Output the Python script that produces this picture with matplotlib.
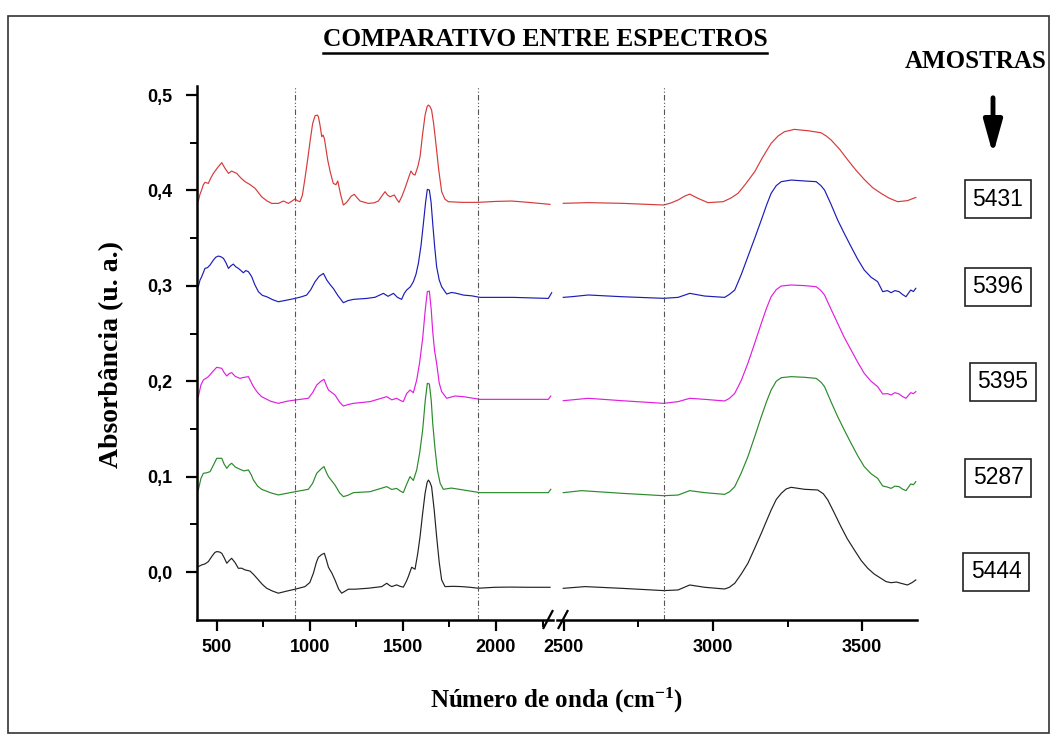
import numpy as np
import matplotlib
matplotlib.use("Agg")
import matplotlib.pyplot as plt
from matplotlib.patches import FancyArrowPatch, Rectangle
from matplotlib.lines import Line2D
from matplotlib.ticker import FixedLocator, FixedFormatter

plt.rcParams['font.family'] = ['Liberation Sans', 'DejaVu Sans']
plt.rcParams['font.weight'] = 'bold'
plt.rcParams['xtick.labelsize'] = 13
plt.rcParams['ytick.labelsize'] = 13
plt.rcParams['mathtext.fontset'] = 'custom'
plt.rcParams['mathtext.rm'] = 'Liberation Serif:bold'
plt.rcParams['mathtext.it'] = 'Liberation Serif:bold'
plt.rcParams['mathtext.bf'] = 'Liberation Serif:bold'

# ---------------- data (wavenumber, absorbance) ----------------
samples = ['5431', '5396', '5395', '5287', '5444']
colors = ['#d63a3a', '#1c1cb8', '#e01ee0', '#2a8a2a', '#222222']

s5444 = [(401,.0057),(419,.0074),(437,.0085),(455,.0109),(473,.0162),(490,.0205),(500,.0214),(515,.0210),
         (527,.0196),(540,.0150),(554,.0092),(567,.0120),(580,.0144),(598,.0100),(616,.0039),(634,.0040),
         (652,.0022),(679,.0010),(700,-.0030),(724,-.0083),(745,-.0130),(768,-.0170),(800,-.0200),
         (831,-.0222),(876,-.0200),(921,-.0180),(974,-.0153),(1000,-.0110),(1019,-.0013),(1035,.0100),
         (1046,.0155),(1065,.0185),(1078,.0196),(1090,.0120),(1100,.0050),(1118,-.0010),(1135,-.0083),
         (1155,-.0180),(1171,-.0222),(1190,-.0200),(1207,-.0180),(1243,-.0180),(1314,-.0170),
         (1386,-.0153),(1413,-.0118),(1428,-.0140),(1440,-.0153),(1466,-.0135),(1485,-.0150),
         (1502,-.0159),(1518,-.0100),(1529,-.0048),(1547,.0050),(1565,.0029),(1580,.0200),(1592,.0371),
         (1605,.0600),(1619,.0825),(1630,.0940),(1637,.0964),(1645,.0940),(1654,.0894),(1668,.0650),
         (1681,.0371),(1695,.0100),(1708,-.0083),(1726,-.0153),(1770,-.0150),(1816,-.0153),
         (1860,-.0160),(1905,-.0170),(1994,-.0160),(2080,-.0158),(2174,-.0160),(2290,-.0160),
         (2498,-.0171),(2571,-.0153),(2694,-.0171),(2835,-.0195),(2883,-.0188),(2922,-.0136),
         (2972,-.0160),(3039,-.0178),(3055,-.0160),(3073,-.0118),(3095,-.0020),(3117,.0091),
         (3140,.0250),(3162,.0406),(3180,.0540),(3195,.0650),(3212,.0760),(3229,.0825),(3245,.0870),
         (3262,.0888),(3307,.0867),(3351,.0860),(3370,.0820),(3385,.0755),(3405,.0630),(3429,.0476),
         (3450,.0350),(3474,.0231),(3497,.0120),(3519,.0039),(3540,-.0020),(3563,-.0066),
         (3580,-.0100),(3597,-.0112),(3615,-.0105),(3630,-.0118),(3652,-.0136),(3668,-.0110),
         (3680,-.0083)]

s5287 = [(401,.0860),(415,.0980),(428,.1035),(446,.1040),(464,.1052),(482,.1120),(500,.1192),(527,.1192),
         (540,.1130),(554,.1087),(567,.1120),(580,.1140),(600,.1100),(625,.1077),(645,.1060),(670,.1070),
         (685,.1020),(697,.0965),(720,.0900),(741,.0867),(790,.0830),(831,.0808),(876,.0825),(921,.0842),
         (992,.0867),(1015,.0930),(1037,.1035),(1060,.1080),(1076,.1105),(1090,.1040),(1100,.1000),
         (1135,.0912),(1160,.0830),(1180,.0790),(1205,.0805),(1234,.0832),(1323,.0842),(1413,.0895),
         (1440,.0865),(1466,.0877),(1485,.0850),(1502,.0832),(1520,.0920),(1538,.1000),(1556,.0960),
         (1574,.1070),(1590,.1250),(1606,.1489),(1620,.1800),(1631,.1978),(1642,.1971),(1652,.1800),
         (1660,.1559),(1672,.1300),(1685,.1070),(1700,.0930),(1717,.0867),(1760,.0880),(1825,.0860),
         (1914,.0832),(2093,.0832),(2281,.0832),(2294,.0867),
         (2498,.0832),(2560,.0853),(2694,.0825),(2835,.0800),(2883,.0807),(2922,.0853),(2972,.0832),
         (3039,.0814),(3055,.0840),(3073,.0895),(3095,.1040),(3117,.1209),(3140,.1420),(3162,.1629),
         (3180,.1790),(3195,.1908),(3212,.2000),(3229,.2037),(3262,.2048),(3307,.2041),(3346,.2030),
         (3362,.1990),(3374,.1943),(3395,.1790),(3418,.1629),(3440,.1490),(3463,.1349),(3485,.1220),
         (3507,.1105),(3530,.1030),(3552,.0982),(3569,.0902),(3585,.0890),(3597,.0877),(3610,.0900),
         (3624,.0895),(3635,.0870),(3647,.0853),(3663,.0923),(3672,.0915),(3680,.0947)]

s5395 = [(401,.1838),(415,.1960),(428,.2013),(442,.2030),(455,.2048),(478,.2100),(500,.2146),(527,.2135),
         (540,.2090),(554,.2055),(567,.2080),(580,.2090),(600,.2050),(625,.2030),(645,.2040),(670,.2048),
         (685,.1990),(697,.1943),(720,.1880),(741,.1838),(790,.1790),(831,.1768),(876,.1790),(921,.1803),
         (992,.1821),(1015,.1880),(1037,.1960),(1060,.2000),(1076,.2020),(1090,.1950),(1100,.1908),
         (1135,.1856),(1160,.1780),(1180,.1740),(1205,.1755),(1234,.1768),(1323,.1786),(1413,.1838),
         (1440,.1805),(1466,.1821),(1485,.1800),(1502,.1786),(1520,.1870),(1538,.1908),(1556,.1880),
         (1574,.2013),(1590,.2200),(1606,.2450),(1620,.2750),(1631,.2940),(1642,.2945),(1652,.2750),
         (1660,.2520),(1670,.2320),(1681,.2188),(1695,.1980),(1708,.1891),(1735,.1821),(1780,.1845),
         (1825,.1838),(1914,.1810),(2093,.1810),(2281,.1810),(2294,.1845),
         (2498,.1796),(2582,.1821),(2694,.1796),(2835,.1768),(2883,.1786),(2922,.1821),(2972,.1810),
         (3039,.1793),(3055,.1820),(3073,.1873),(3095,.2010),(3117,.2188),(3140,.2400),(3162,.2607),
         (3180,.2770),(3195,.2886),(3212,.2960),(3229,.2998),(3262,.3009),(3307,.3002),(3346,.2991),
         (3362,.2950),(3374,.2904),(3395,.2760),(3418,.2607),(3440,.2460),(3463,.2327),(3485,.2200),
         (3507,.2083),(3530,.2000),(3552,.1943),(3569,.1866),(3585,.1870),(3597,.1856),(3610,.1880),
         (3624,.1866),(3635,.1840),(3647,.1821),(3663,.1880),(3672,.1870),(3680,.1891)]

s5396 = [(401,.2990),(410,.3060),(419,.3095),(437,.3183),(450,.3190),(464,.3218),(482,.3270),(495,.3300),
         (509,.3312),(522,.3305),(536,.3288),(550,.3240),(563,.3183),(576,.3210),(589,.3228),(602,.3200),
         (616,.3183),(630,.3160),(643,.3137),(656,.3160),(670,.3148),(680,.3120),(688,.3095),(705,.3010),
         (724,.2938),(745,.2900),(768,.2886),(800,.2855),(831,.2833),(876,.2850),(921,.2868),(955,.2885),
         (983,.2903),(1005,.2960),(1028,.3043),(1050,.3100),(1073,.3130),(1091,.3061),(1110,.3010),
         (1126,.2973),(1150,.2900),(1180,.2823),(1205,.2845),(1234,.2858),(1305,.2868),(1350,.2880),
         (1395,.2921),(1420,.2890),(1449,.2921),(1470,.2880),(1493,.2858),(1507,.2920),(1520,.2956),
         (1540,.2990),(1556,.3043),(1570,.3120),(1583,.3235),(1597,.3420),(1610,.3655),(1622,.3880),
         (1631,.4011),(1642,.4004),(1651,.3880),(1660,.3655),(1670,.3420),(1681,.3200),(1695,.3060),
         (1708,.2991),(1735,.2914),(1760,.2930),(1780,.2925),(1825,.2903),(1870,.2895),(1914,.2879),
         (2093,.2879),(2281,.2868),(2299,.2928),
         (2498,.2879),(2526,.2886),(2582,.2904),(2694,.2886),(2835,.2869),(2883,.2879),(2922,.2921),
         (2972,.2893),(3039,.2879),(3055,.2910),(3073,.2956),(3095,.3120),(3117,.3306),(3140,.3500),
         (3162,.3690),(3180,.3850),(3195,.3970),(3212,.4050),(3229,.4092),(3262,.4109),(3307,.4099),
         (3346,.4092),(3362,.4050),(3374,.4004),(3395,.3860),(3418,.3690),(3440,.3550),(3463,.3410),
         (3485,.3280),(3507,.3166),(3530,.3090),(3552,.3044),(3569,.2939),(3585,.2950),(3597,.2928),
         (3610,.2950),(3624,.2939),(3635,.2910),(3647,.2886),(3663,.2956),(3672,.2940),(3680,.2974)]

s5431 = [(401,.3889),(410,.3960),(419,.4004),(428,.4060),(437,.4085),(455,.4074),(468,.4130),(482,.4179),
         (505,.4240),(527,.4291),(545,.4230),(563,.4179),(580,.4203),(607,.4179),(630,.4130),(652,.4092),
         (680,.4060),(706,.4022),(741,.3934),(770,.3890),(795,.3864),(831,.3864),(858,.3889),(885,.3864),
         (905,.3890),(920,.3910),(935,.3890),(947,.3882),(960,.3950),(974,.4127),(988,.4320),(1001,.4511),
         (1015,.4700),(1028,.4783),(1040,.4790),(1046,.4773),(1055,.4680),(1064,.4563),(1071,.4580),
         (1078,.4546),(1088,.4420),(1096,.4319),(1110,.4190),(1126,.4074),(1140,.4060),(1150,.4099),
         (1165,.3960),(1180,.3847),(1195,.3870),(1207,.3899),(1222,.3940),(1239,.3959),(1255,.3920),
         (1270,.3889),(1314,.3864),(1345,.3870),(1368,.3889),(1390,.3950),(1404,.3987),(1418,.3950),
         (1431,.3934),(1454,.3952),(1466,.3910),(1479,.3875),(1495,.3940),(1511,.4022),(1528,.4120),
         (1543,.4203),(1555,.4170),(1565,.4161),(1580,.4250),(1592,.4354),(1605,.4580),(1619,.4790),
         (1630,.4880),(1637,.4895),(1645,.4880),(1654,.4843),(1665,.4700),(1676,.4511),(1692,.4220),
         (1708,.3987),(1725,.3910),(1744,.3882),(1816,.3875),(1905,.3875),(2000,.3885),(2084,.3889),
         (2174,.3875),(2290,.3854),
         (2498,.3865),(2582,.3872),(2694,.3865),(2835,.3847),(2860,.3870),(2883,.3900),(2905,.3940),
         (2922,.3962),(2935,.3940),(2950,.3917),(2983,.3872),(3034,.3882),(3060,.3920),(3084,.3970),
         (3110,.4070),(3140,.4197),(3165,.4340),(3195,.4494),(3218,.4570),(3240,.4616),(3273,.4640),
         (3318,.4626),(3362,.4605),(3380,.4570),(3396,.4529),(3425,.4430),(3452,.4319),(3480,.4210),
         (3507,.4116),(3535,.4030),(3563,.3970),(3590,.3920),(3619,.3882),(3652,.3893),(3680,.3927)]

spectra = [s5431, s5396, s5395, s5287, s5444]

yticks = [0.0, 0.1, 0.2, 0.3, 0.4, 0.5]
ytick_labels = ['0,0', '0,1', '0,2', '0,3', '0,4', '0,5']
xticks_left = [500, 1000, 1500, 2000]
xticks_right = [2500, 3000, 3500]
ref_lines_left = [920, 1905]
ref_lines_right = [2835]
label_y = [199, 287, 382, 478, 572]   # pixel centre of sample boxes
label_x = [998, 998, 1003, 998, 996]

# ---------------- figure ----------------
W, H = 1055, 735
fig = plt.figure(figsize=(W / 100, H / 100), dpi=100)

def fx(px):
    return px / W

def fy(py):
    return 1 - py / H

ax_bot, ax_top = 620, 85.5
ax1 = fig.add_axes([fx(197), fy(ax_bot), fx(553 - 197), (ax_bot - ax_top) / H])
ax2 = fig.add_axes([fx(557), fy(ax_bot), fx(917 - 557), (ax_bot - ax_top) / H])

ylim = (-0.0503, 0.51)
for ax in (ax1, ax2):
    ax.set_ylim(*ylim)
    ax.patch.set_alpha(0)
    for s in ('top', 'right'):
        ax.spines[s].set_visible(False)
    ax.spines['bottom'].set_linewidth(1.8)
    ax.spines['left'].set_linewidth(1.8)
    ax.tick_params(axis='both', which='major', direction='out', length=8, width=1.6)
    ax.tick_params(axis='both', which='minor', direction='out', length=5, width=1.4)
    ax.tick_params(axis='x', pad=6)

ax1.set_xlim(394, 2306)
ax2.set_xlim(2477, 3684)
ax2.spines['left'].set_visible(False)
ax2.tick_params(axis='y', which='both', left=False, labelleft=False)

ax1.yaxis.set_major_locator(FixedLocator(yticks))
ax1.yaxis.set_major_formatter(FixedFormatter(ytick_labels))
ax1.yaxis.set_minor_locator(FixedLocator([0.05, 0.15, 0.25, 0.35, 0.45]))
ax1.tick_params(axis='y', pad=10)

ax1.xaxis.set_major_locator(FixedLocator(xticks_left))
ax1.xaxis.set_minor_locator(FixedLocator([750, 1250, 1750, 2250]))
ax2.xaxis.set_major_locator(FixedLocator(xticks_right))
ax2.xaxis.set_minor_locator(FixedLocator([2750, 3250]))

for spec, c in zip(spectra, colors):
    arr = np.asarray(spec, float)
    wn, ab = arr[:, 0], arr[:, 1]
    left = wn < 2400
    ax1.plot(wn[left], ab[left], color=c, lw=0.85)
    ax2.plot(wn[~left], ab[~left], color=c, lw=0.85)

for x in ref_lines_left:
    ax1.axvline(x, color='#555555', lw=0.8, ls=(0, (5, 2, 1, 2, 1, 2)))
for x in ref_lines_right:
    ax2.axvline(x, color='#555555', lw=0.8, ls=(0, (5, 2, 1, 2, 1, 2)))

# break marks
for xc in (548, 563):
    fig.add_artist(Line2D([fx(xc - 4.5), fx(xc + 4.5)], [fy(628), fy(611)],
                          transform=fig.transFigure, color='black', lw=1.6))

# titles & labels
serif = 'Liberation Serif'
title = fig.text(fx(545), fy(40), 'COMPARATIVO ENTRE ESPECTROS', ha='center', va='center',
                 fontsize=18.3, fontweight='bold', family=serif)
fig.text(fx(976), fy(62), 'AMOSTRAS', ha='center', va='center', fontsize=18,
         fontweight='bold', family=serif)
fig.text(fx(112), fy(355), 'Absorbância (u. a.)', ha='center', va='center', rotation=90,
         fontsize=20, fontweight='bold', family=serif)
fig.text(fx(557), fy(700), r'Número de onda (cm$^{-1}$)', ha='center', va='center',
         fontsize=18, fontweight='bold', family=serif)

fig.canvas.draw()
bb = title.get_window_extent(fig.canvas.get_renderer())
fig.add_artist(Line2D([bb.x0 / W, bb.x1 / W], [(bb.y0 - 1.5) / H, (bb.y0 - 1.5) / H],
                      transform=fig.transFigure, color='black', lw=1.8))

# arrow
fig.add_artist(FancyArrowPatch((fx(993), fy(95)), (fx(993), fy(157)), transform=fig.transFigure,
                               arrowstyle='-|>,head_width=0.35,head_length=1.25',
                               mutation_scale=16, lw=3.5, color='black'))

# sample boxes
for name, px, py in zip(samples, label_x, label_y):
    fig.text(fx(px), fy(py), name, ha='center', va='center', fontsize=16.5,
             family='Liberation Sans', fontweight='normal',
             bbox=dict(boxstyle='square,pad=0.32', fc='white', ec='#222222', lw=1.2))

# outer frame
fig.add_artist(Rectangle((fx(8), fy(733)), fx(1049 - 8), (733 - 16) / H, transform=fig.transFigure,
                         fill=False, ec='#333333', lw=1.2))

fig.savefig('out.png', dpi=100)
